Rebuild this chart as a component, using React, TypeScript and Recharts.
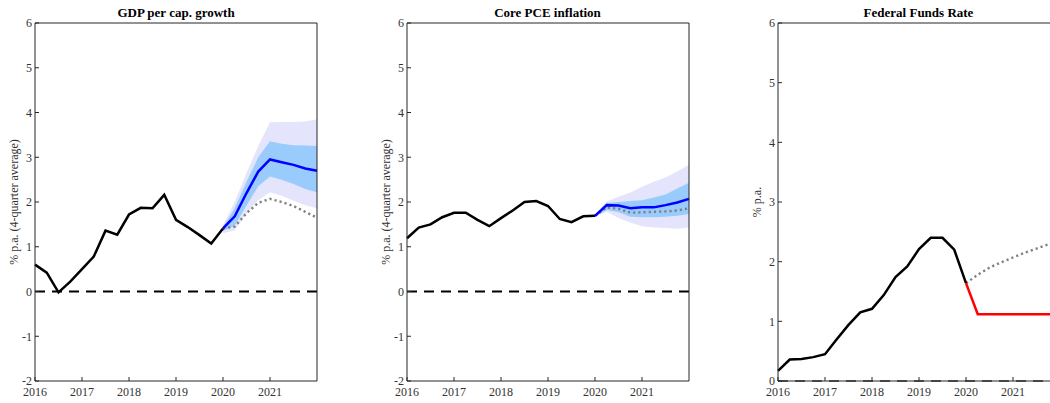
import React from 'react';
import { ComposedChart, Line, Area, XAxis, YAxis, ReferenceLine } from 'recharts';

// x runs over quarters: 0 = 2016Q1 ... 24 = 2022Q1
const QUARTERS = [0, 1, 2, 3, 4, 5, 6, 7, 8, 9, 10, 11, 12, 13, 14, 15, 16, 17, 18, 19, 20, 21, 22, 23, 24];
const YEAR_TICKS = [0, 4, 8, 12, 16, 20];
const YEAR_LABELS = ['2016', '2017', '2018', '2019', '2020', '2021'];
const FORECAST_START = 16;

// GDP per capita growth, % p.a. (4-quarter average)
const gdpHistory = [0.6, 0.42, -0.02, 0.22, 0.5, 0.78, 1.36, 1.27, 1.72, 1.87, 1.86, 2.16, 1.6, 1.44, 1.26, 1.07, 1.41];
const gdpForecast = [1.41, 1.68, 2.2, 2.68, 2.95, 2.89, 2.83, 2.75, 2.7];
const gdpAlternative = [1.41, 1.45, 1.75, 1.98, 2.07, 2.0, 1.91, 1.78, 1.65];
const gdpInnerLow = [1.36, 1.47, 1.92, 2.35, 2.57, 2.5, 2.4, 2.29, 2.22];
const gdpInnerHigh = [1.44, 1.86, 2.45, 3.0, 3.36, 3.3, 3.27, 3.26, 3.25];
const gdpOuterLow = [1.3, 1.37, 1.75, 2.04, 2.22, 2.14, 2.03, 1.93, 1.86];
const gdpOuterHigh = [1.47, 2.0, 2.65, 3.25, 3.78, 3.79, 3.79, 3.8, 3.85];

// Core PCE inflation, % p.a. (4-quarter average)
const pceHistory = [1.19, 1.43, 1.5, 1.66, 1.76, 1.76, 1.6, 1.46, 1.64, 1.81, 2.0, 2.02, 1.91, 1.62, 1.55, 1.68, 1.69];
const pceForecast = [1.69, 1.93, 1.92, 1.86, 1.88, 1.88, 1.93, 1.99, 2.07];
const pceAlternative = [1.69, 1.88, 1.85, 1.76, 1.77, 1.78, 1.79, 1.81, 1.86];
const pceInnerLow = [1.68, 1.82, 1.77, 1.67, 1.66, 1.66, 1.67, 1.69, 1.73];
const pceInnerHigh = [1.7, 1.98, 2.0, 2.02, 2.04, 2.1, 2.17, 2.3, 2.43];
const pceOuterLow = [1.66, 1.78, 1.64, 1.54, 1.46, 1.43, 1.42, 1.4, 1.43];
const pceOuterHigh = [1.72, 2.01, 2.12, 2.21, 2.34, 2.45, 2.55, 2.68, 2.83];

// Federal funds rate, % p.a.
const ffrHistory = [0.17, 0.36, 0.37, 0.4, 0.45, 0.7, 0.94, 1.15, 1.21, 1.44, 1.74, 1.92, 2.21, 2.4, 2.4, 2.2, 1.64];
const ffrForecast = [1.64, 1.12, 1.12, 1.12, 1.12, 1.12, 1.12, 1.12, 1.12];
const ffrAlternative = [1.64, 1.78, 1.9, 1.99, 2.07, 2.15, 2.22, 2.29, 2.35];

const SERIF = "'Liberation Serif', 'Times New Roman', serif";
const AXIS_COLOR = '#262626';
const AXIS_W = 35;
const PLOT_W = 282;
const CHART_H = 403;

type Row = {
  q: number;
  hist: number | null;
  fc: number | null;
  alt: number | null;
  inner: [number, number] | null;
  outer: [number, number] | null;
};

const buildRows = (
  history: number[],
  forecast: number[],
  alternative: number[],
  innerLow?: number[],
  innerHigh?: number[],
  outerLow?: number[],
  outerHigh?: number[],
): Row[] =>
  QUARTERS.map((q) => {
    const k = q - FORECAST_START;
    const inFc = k >= 0;
    return {
      q,
      hist: q < history.length ? history[q] : null,
      fc: inFc ? forecast[k] : null,
      alt: inFc ? alternative[k] : null,
      inner: inFc && innerLow && innerHigh ? [innerLow[k], innerHigh[k]] : null,
      outer: inFc && outerLow && outerHigh ? [outerLow[k], outerHigh[k]] : null,
    };
  });

type PanelSpec = {
  title: string;
  yLabel: string;
  plotLeft: number;
  yDomain: [number, number];
  yTicks: number[];
  rows: Row[];
  fcColor: string;
  bands: boolean;
  zeroColor: string;
};

const panels: PanelSpec[] = [
  {
    title: 'GDP per cap. growth',
    yLabel: '% p.a. (4-quarter average)',
    plotLeft: 35,
    yDomain: [-2, 6],
    yTicks: [-2, -1, 0, 1, 2, 3, 4, 5, 6],
    rows: buildRows(gdpHistory, gdpForecast, gdpAlternative, gdpInnerLow, gdpInnerHigh, gdpOuterLow, gdpOuterHigh),
    fcColor: '#0000ff',
    bands: true,
    zeroColor: '#000',
  },
  {
    title: 'Core PCE inflation',
    yLabel: '% p.a. (4-quarter average)',
    plotLeft: 406.5,
    yDomain: [-2, 6],
    yTicks: [-2, -1, 0, 1, 2, 3, 4, 5, 6],
    rows: buildRows(pceHistory, pceForecast, pceAlternative, pceInnerLow, pceInnerHigh, pceOuterLow, pceOuterHigh),
    fcColor: '#0000ff',
    bands: true,
    zeroColor: '#000',
  },
  {
    title: 'Federal Funds Rate',
    yLabel: '% p.a.',
    plotLeft: 777.5,
    yDomain: [0, 6],
    yTicks: [0, 1, 2, 3, 4, 5, 6],
    rows: buildRows(ffrHistory, ffrForecast, ffrAlternative),
    fcColor: '#ff0000',
    bands: false,
    zeroColor: '#666',
  },
];

const tickStyle = { fill: '#333', fontSize: 12, fontFamily: SERIF };
const yearLabel = (v: number) => YEAR_LABELS[YEAR_TICKS.indexOf(v)] ?? '';

const Panel = ({ p }: { p: PanelSpec }) => (
  <>
    <div
      style={{
        position: 'absolute',
        left: p.plotLeft,
        width: PLOT_W,
        top: 5,
        textAlign: 'center',
        fontFamily: SERIF,
        fontWeight: 'bold',
        fontSize: 13,
        lineHeight: '16px',
        whiteSpace: 'nowrap',
        color: '#000',
      }}
    >
      {p.title}
    </div>
    <div
      style={{
        position: 'absolute',
        left: p.plotLeft - 21,
        top: 202,
        transform: 'translate(-50%, -50%) rotate(-90deg)',
        fontFamily: SERIF,
        fontSize: 12,
        whiteSpace: 'nowrap',
        color: '#333',
      }}
    >
      {p.yLabel}
    </div>
    <div style={{ position: 'absolute', left: p.plotLeft - AXIS_W, top: 0 }}>
      <ComposedChart
        width={AXIS_W + PLOT_W + 1 + 10}
        height={CHART_H}
        data={p.rows}
        margin={{ top: 22, right: 10, bottom: 0, left: 0 }}
      >
        <XAxis
          xAxisId={0}
          dataKey="q"
          type="number"
          domain={[0, 24]}
          ticks={YEAR_TICKS}
          tickFormatter={yearLabel}
          height={22}
          tickSize={-4}
          tickMargin={10}
          tick={tickStyle}
          axisLine={{ stroke: AXIS_COLOR }}
          tickLine={{ stroke: AXIS_COLOR }}
          interval={0}
        />
        <XAxis
          xAxisId="top"
          orientation="top"
          dataKey="q"
          type="number"
          domain={[0, 24]}
          ticks={YEAR_TICKS}
          height={1}
          tickSize={-4}
          tick={false}
          axisLine={{ stroke: AXIS_COLOR }}
          tickLine={{ stroke: AXIS_COLOR }}
        />
        <YAxis
          yAxisId={0}
          type="number"
          domain={p.yDomain}
          ticks={p.yTicks}
          width={AXIS_W}
          tickSize={-4}
          tickMargin={7}
          tick={tickStyle}
          axisLine={{ stroke: AXIS_COLOR }}
          tickLine={{ stroke: AXIS_COLOR }}
          interval={0}
        />
        <YAxis
          yAxisId="right"
          orientation="right"
          type="number"
          domain={p.yDomain}
          ticks={p.yTicks}
          width={1}
          tickSize={-4}
          tick={false}
          axisLine={{ stroke: AXIS_COLOR }}
          tickLine={{ stroke: AXIS_COLOR }}
        />
        <ReferenceLine y={0} stroke={p.zeroColor} strokeWidth={1.8} strokeDasharray="10 7" />
        {p.bands && (
          <Area dataKey="outer" stroke="none" fill="#e4e4fc" fillOpacity={1} dot={false} activeDot={false} isAnimationActive={false} />
        )}
        {p.bands && (
          <Area dataKey="inner" stroke="none" fill="#99ccfc" fillOpacity={1} dot={false} activeDot={false} isAnimationActive={false} />
        )}
        <Line dataKey="alt" stroke="#808080" strokeWidth={2.4} strokeDasharray="2.2 3" dot={false} activeDot={false} isAnimationActive={false} />
        <Line dataKey="hist" stroke="#000" strokeWidth={2.5} dot={false} activeDot={false} isAnimationActive={false} />
        <Line dataKey="fc" stroke={p.fcColor} strokeWidth={2.5} dot={false} activeDot={false} isAnimationActive={false} />
      </ComposedChart>
    </div>
  </>
);

export default function App() {
  return (
    <div
      style={{
        position: 'absolute',
        left: 0,
        top: 0,
        width: 1050,
        height: CHART_H,
        overflow: 'hidden',
        background: '#fff',
      }}
    >
      {panels.map((p) => (
        <Panel key={p.title} p={p} />
      ))}
    </div>
  );
}
